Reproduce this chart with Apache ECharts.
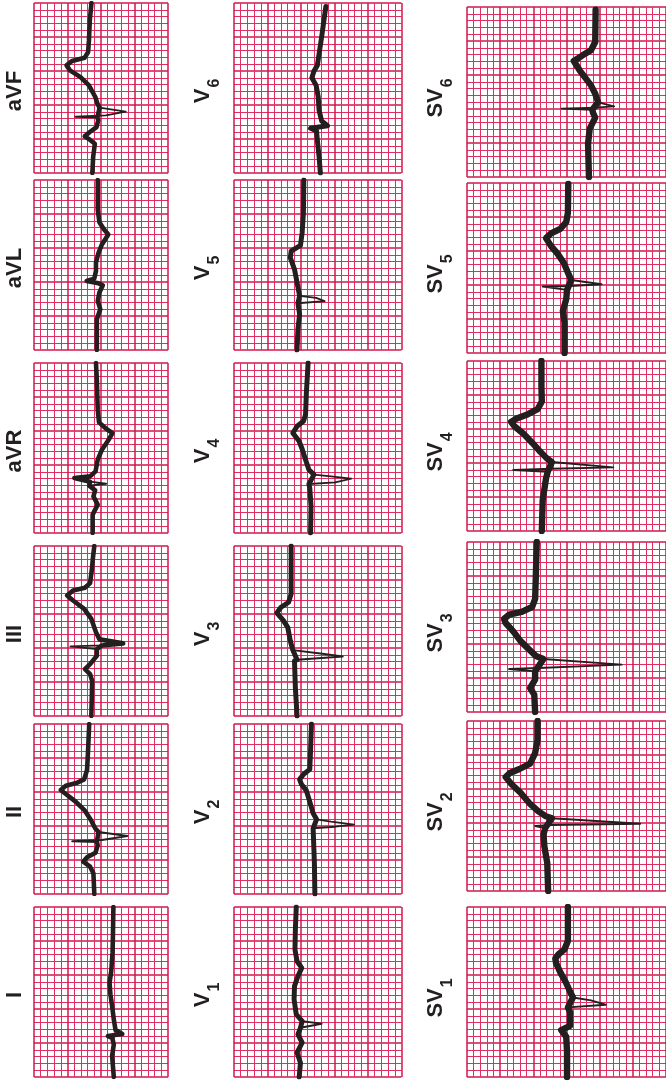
<!DOCTYPE html>
<html><head><meta charset="utf-8">
<script src="https://cdn.jsdelivr.net/npm/echarts@6/dist/echarts.min.js"></script>
<style>html,body{margin:0;padding:0;background:#fff;overflow:hidden}#c{width:666px;height:1083px}</style>
</head><body><div id="c"></div>
<script>
// ---- DATA (small-box units: [voltage position across strip, time up the strip, tip flag]) ----
const limbNames = ['aVF', 'aVL', 'aVR', 'III', 'II', 'I'];
const vMain = 'V';
const svMain = 'SV';
const chestSubs = ['6', '5', '4', '3', '2', '1'];

const lead_aVF = [[8.71,0],[8.83,2.35],[9.08,4.31],[8.33,4.9],[7.57,5.39],[8.33,6.03],[9.34,6.76],[9.59,7.75],[9.46,8.14],[6.18,8.28,1],[10.73,8.48,1],[13.69,9.02,1],[9.78,9.61],[9.46,10.2],[9.15,11.18],[8.2,12.9],[6.94,14.1],[5.36,15.1],[4.86,15.83],[5.68,16.47],[7.57,16.96],[8.08,17.8],[8.2,19.5],[8.33,22.45],[8.58,25]];
const lead_aVL = [[9.38,0],[9.38,4.54],[9.89,6.0],[9.51,7.23],[9.76,8.45],[10.27,9.52],[9.63,9.81],[7.86,10.16],[9.0,10.5],[9.25,11.62],[9.25,12.84],[9.63,14.3],[10.14,15.53],[11.09,17.0],[10.46,17.72],[9.76,18.8],[9.51,20.65],[9.51,25]];
const lead_aVR = [[8.75,0],[8.75,2.7],[9.51,4.17],[8.87,5.39],[9.13,6.27],[8.24,6.96],[10.77,7.25,1],[8.37,7.55],[6.02,8.09],[8.37,8.33],[9.19,9.07],[9.51,10.78],[10.14,12.25],[11.09,13.63],[11.72,14.7],[10.65,15.44],[9.7,16.27],[9.51,18.14],[9.38,22.55],[9.25,25]];
const lead_III = [[8.56,0],[8.68,5.17],[8.37,6.15],[7.6,6.89],[8.37,7.63],[9.38,8.86],[9.38,9.84],[5.45,10.24,1],[10.14,10.38],[13.31,10.68],[9.76,11.27],[9.25,12.3],[8.56,14.27],[7.48,15.75],[5.83,16.98],[4.94,17.72],[5.83,18.45],[7.6,18.85],[8.37,19.54],[8.62,21.41],[8.81,23.38],[9.0,25]];
const lead_II = [[9.0,0],[8.87,3.04],[8.37,4.02],[7.35,4.75],[7.92,5.39],[9.19,6.08],[9.51,7.2],[9.38,7.65],[5.7,7.75,1],[10.14,7.94,1],[13.94,8.53,1],[9.63,9.12],[9.13,9.66],[8.49,10.88],[7.6,12.25],[6.21,13.58],[4.94,14.56],[3.99,15.29],[4.75,15.93],[6.46,16.37],[7.48,16.86],[7.92,18.24],[8.05,20.69],[8.24,25]];
const lead_I = [[11.91,0],[11.66,3.08],[11.91,4.79],[11.66,5.77],[11.03,6.02],[13.18,6.31],[12.17,6.9],[11.91,8.46],[11.66,10.42],[11.41,12.13],[11.28,13.85],[11.53,15.56],[11.72,18.25],[11.79,21.18],[11.85,25]];

const lead_V6 = [[12.89,0],[12.7,2.35],[12.44,4.8],[12.32,6.18],[11.43,6.57],[13.96,6.96],[13.08,7.65],[12.7,9.22],[12.57,11.18],[12.26,12.89],[11.62,14.02],[11.94,15.0],[12.44,15.83],[13.08,20.0],[13.71,24.5]];
const lead_V5 = [[9.41,0],[9.54,3.08],[9.79,5.27],[9.54,6.88],[13.52,7.18,1],[12.26,7.67,1],[9.79,7.96],[9.41,9.91],[9.03,11.87],[8.4,13.57],[8.53,14.55],[9.92,15.38],[10.17,17.24],[10.36,20.17],[10.42,25]];
const lead_V4 = [[11.43,0],[11.5,3.92],[11.31,6.62],[11.18,7.21],[15.1,7.45,1],[17.5,7.99,1],[14.47,8.33,1],[11.94,8.58],[11.18,9.31],[10.68,10.78],[10.17,12.35],[9.73,13.48],[8.78,14.71],[9.41,15.69],[10.36,16.42],[10.68,17.4],[10.8,20.59],[11.06,25]];
const lead_V3 = [[9.41,0],[9.16,4.18],[9.03,8.12],[9.41,8.27],[16.23,8.76,1],[13.2,9.15,1],[8.78,9.69],[8.4,11.07],[8.02,13.04],[7.39,14.03],[6.38,15.16],[7.01,15.99],[8.15,16.73],[8.53,17.96],[8.53,20.92],[8.53,25]];
const lead_V2 = [[12.07,0],[12.0,4.51],[11.81,9.66],[15.1,9.9,1],[17.94,10.2,1],[14.47,10.64,1],[12.32,10.98],[11.81,11.86],[11.31,13.58],[10.8,15.2],[10.04,16.18],[9.79,16.86],[10.42,17.65],[11.31,18.33],[11.43,21.18],[11.56,25]];
const lead_V1 = [[9.73,0],[9.92,2.1],[9.41,3.57],[10.17,5.04],[9.54,6.26],[9.92,7.24],[13.08,7.83,1],[10.17,8.22],[9.29,9.2],[8.97,11.4],[9.03,13.36],[9.54,14.82],[10.11,16.05],[9.41,17.03],[9.1,18.74],[9.16,21.67],[9.29,25]];

const lead_SV6 = [[18.38,0],[18.25,4.9],[18.5,7.11],[19.33,8.73],[19.01,9.41],[18.88,9.9],[14.26,10.05,1],[19.33,10.2,1],[22.18,10.39,1],[19.77,10.98],[19.33,12.25],[18.69,13.48],[17.93,14.46],[16.98,15.69],[16.1,17.06],[17.43,17.89],[18.69,18.63],[19.33,19.85],[19.39,24.6]];
const lead_SV5 = [[14.7,0],[14.7,4.49],[14.45,6.2],[14.96,7.91],[15.08,9.28],[11.41,9.77,1],[15.53,9.86,1],[20.28,10.11,1],[15.72,10.74],[15.21,11.82],[14.58,13.28],[13.62,14.65],[12.67,15.72],[11.91,16.89],[12.67,17.58],[14.07,18.26],[14.96,19.24],[15.21,20.61],[15.27,24.85]];
const lead_SV4 = [[11.28,0],[11.41,4.53],[11.91,7.73],[12.17,8.71],[6.97,8.96,1],[12.67,9.15,1],[22.05,9.35,1],[12.8,10.14],[12.04,10.68],[10.9,11.81],[9.82,12.99],[8.56,14.27],[7.1,15.45],[6.65,16.04],[7.48,16.54],[9.19,17.18],[10.65,17.91],[11.28,19.05],[11.22,21.26],[11.22,25]];
const lead_SV3 = [[10.27,0],[10.14,2.55],[9.51,3.53],[10.27,4.75],[10.27,5.98],[6.34,6.32,1],[10.77,6.47,1],[23.32,6.96,1],[11.53,7.79],[10.46,8.19],[9.38,9.17],[8.11,10.39],[6.97,11.86],[5.83,13.09],[5.58,13.68],[6.34,14.31],[8.24,14.71],[9.82,15.44],[10.27,16.62],[10.39,20.44],[10.52,25]];
const lead_SV2 = [[12.23,0],[12.1,4.12],[11.66,6.57],[11.53,8.28],[11.79,9.26],[10.27,9.56,1],[12.67,9.71,1],[26.11,9.9,1],[12.8,10.69],[11.91,10.98],[10.77,11.72],[9.38,12.94],[8.11,14.41],[6.65,15.78],[5.83,16.76],[6.46,17.35],[7.92,17.94],[9.51,18.73],[10.27,20.29],[10.65,22.25],[10.65,25]];
const lead_SV1 = [[15.08,0],[15.08,3.74],[14.96,5.92],[14.2,6.89],[15.53,7.52],[15.53,9.56],[15.21,10.24],[20.91,10.63,1],[18.69,11.26,1],[15.97,11.7],[15.53,12.57],[14.89,13.93],[14.07,15.39],[13.43,16.75],[13.31,17.43],[13.81,18.06],[14.7,18.79],[15.21,20.0],[15.21,25]];

const colTraces = [
  [lead_aVF, lead_aVL, lead_aVR, lead_III, lead_II, lead_I],
  [lead_V6, lead_V5, lead_V4, lead_V3, lead_V2, lead_V1],
  [lead_SV6, lead_SV5, lead_SV4, lead_SV3, lead_SV2, lead_SV1]
];
const colBoxesAcross = [20, 25, 30];
const boxesUp = 25;

// ---- LAYOUT / STYLE ----
const colLeft = [34, 234, 467];
const boxPx = 6.7;
const rowTops = [[3, 180, 363, 546, 724, 907], [3, 180, 363, 546, 724, 907], [7, 183, 361, 542, 721, 907]];
const panelH = 170;
const labelX = [15, 203, 435.5];
const labelDy = [3, 3, 6];
const thickW = [4.6, 5, 6.4];
const thinW = 1.9;
const ink = '#231f20';
const majorColor = '#d0174e', minorColor = '#df2f60';
const FAM = '"Liberation Sans", Arial, Helvetica, sans-serif';
const mainFont = 'bold 22px ' + FAM;
const subFont = 'bold 16px ' + FAM;

const ctx = document.createElement('canvas').getContext('2d');
function tw(font, s) { ctx.font = font; return ctx.measureText(s).width; }

const grids = [], xAxes = [], yAxes = [], series = [], graphics = [];
let gi = 0;
for (let c = 0; c < 3; c++) {
  for (let r = 0; r < 6; r++) {
    const top = rowTops[c][r];
    grids.push({ left: colLeft[c], top: top, width: colBoxesAcross[c] * boxPx, height: panelH, containLabel: false });
    const axisCommon = {
      type: 'value', gridIndex: gi, interval: 5, min: 0,
      axisLine: { show: false }, axisTick: { show: false }, axisLabel: { show: false },
      splitLine: { show: true, lineStyle: { color: majorColor, width: 1.5 } },
      minorTick: { show: false, splitNumber: 5 },
      minorSplitLine: { show: true, lineStyle: { color: minorColor, width: 1 } }
    };
    xAxes.push(Object.assign({}, axisCommon, { max: colBoxesAcross[c] }));
    yAxes.push(Object.assign({}, axisCommon, { max: boxesUp }));
    const tr = colTraces[c][r];
    series.push({
      type: 'line', xAxisIndex: gi, yAxisIndex: gi, symbol: 'none', animation: false,
      data: tr.map(p => [p[0], p[1]]),
      lineStyle: { color: ink, width: thinW, join: 'round', cap: 'round' }, z: 3
    });
    series.push({
      type: 'line', xAxisIndex: gi, yAxisIndex: gi, symbol: 'none', animation: false,
      data: tr.filter(p => !p[2]).map(p => [p[0], p[1]]),
      lineStyle: { color: ink, width: thickW[c], join: 'round', cap: 'round' }, z: 4
    });

    // label
    const cy = top + panelH / 2 + labelDy[c];
    let children;
    if (c === 0) {
      children = [{ type: 'text', style: { text: limbNames[r], x: 0, y: 0, font: mainFont, fill: ink, align: 'center', verticalAlign: 'middle', textAlign: 'center', textVerticalAlign: 'middle' } }];
    } else {
      const m = c === 1 ? vMain : svMain;
      const s = chestSubs[r];
      const wm = tw(mainFont, m), ws = tw(subFont, s);
      const total = wm + 1 + ws;
      children = [
        { type: 'text', style: { text: m, x: -total / 2, y: 0, font: mainFont, fill: ink, align: 'left', verticalAlign: 'middle', textAlign: 'left', textVerticalAlign: 'middle' } },
        { type: 'text', style: { text: s, x: -total / 2 + wm + 1, y: 12, font: subFont, fill: ink, align: 'left', verticalAlign: 'middle', textAlign: 'left', textVerticalAlign: 'middle' } }
      ];
    }
    graphics.push({ type: 'group', x: labelX[c], y: cy, rotation: Math.PI / 2, children: children });
    gi++;
  }
}

const chart = echarts.init(document.getElementById('c'), null, { renderer: 'canvas' });
chart.setOption({
  backgroundColor: '#ffffff',
  animation: false,
  grid: grids, xAxis: xAxes, yAxis: yAxes, series: series,
  graphic: graphics
});
</script></body></html>
